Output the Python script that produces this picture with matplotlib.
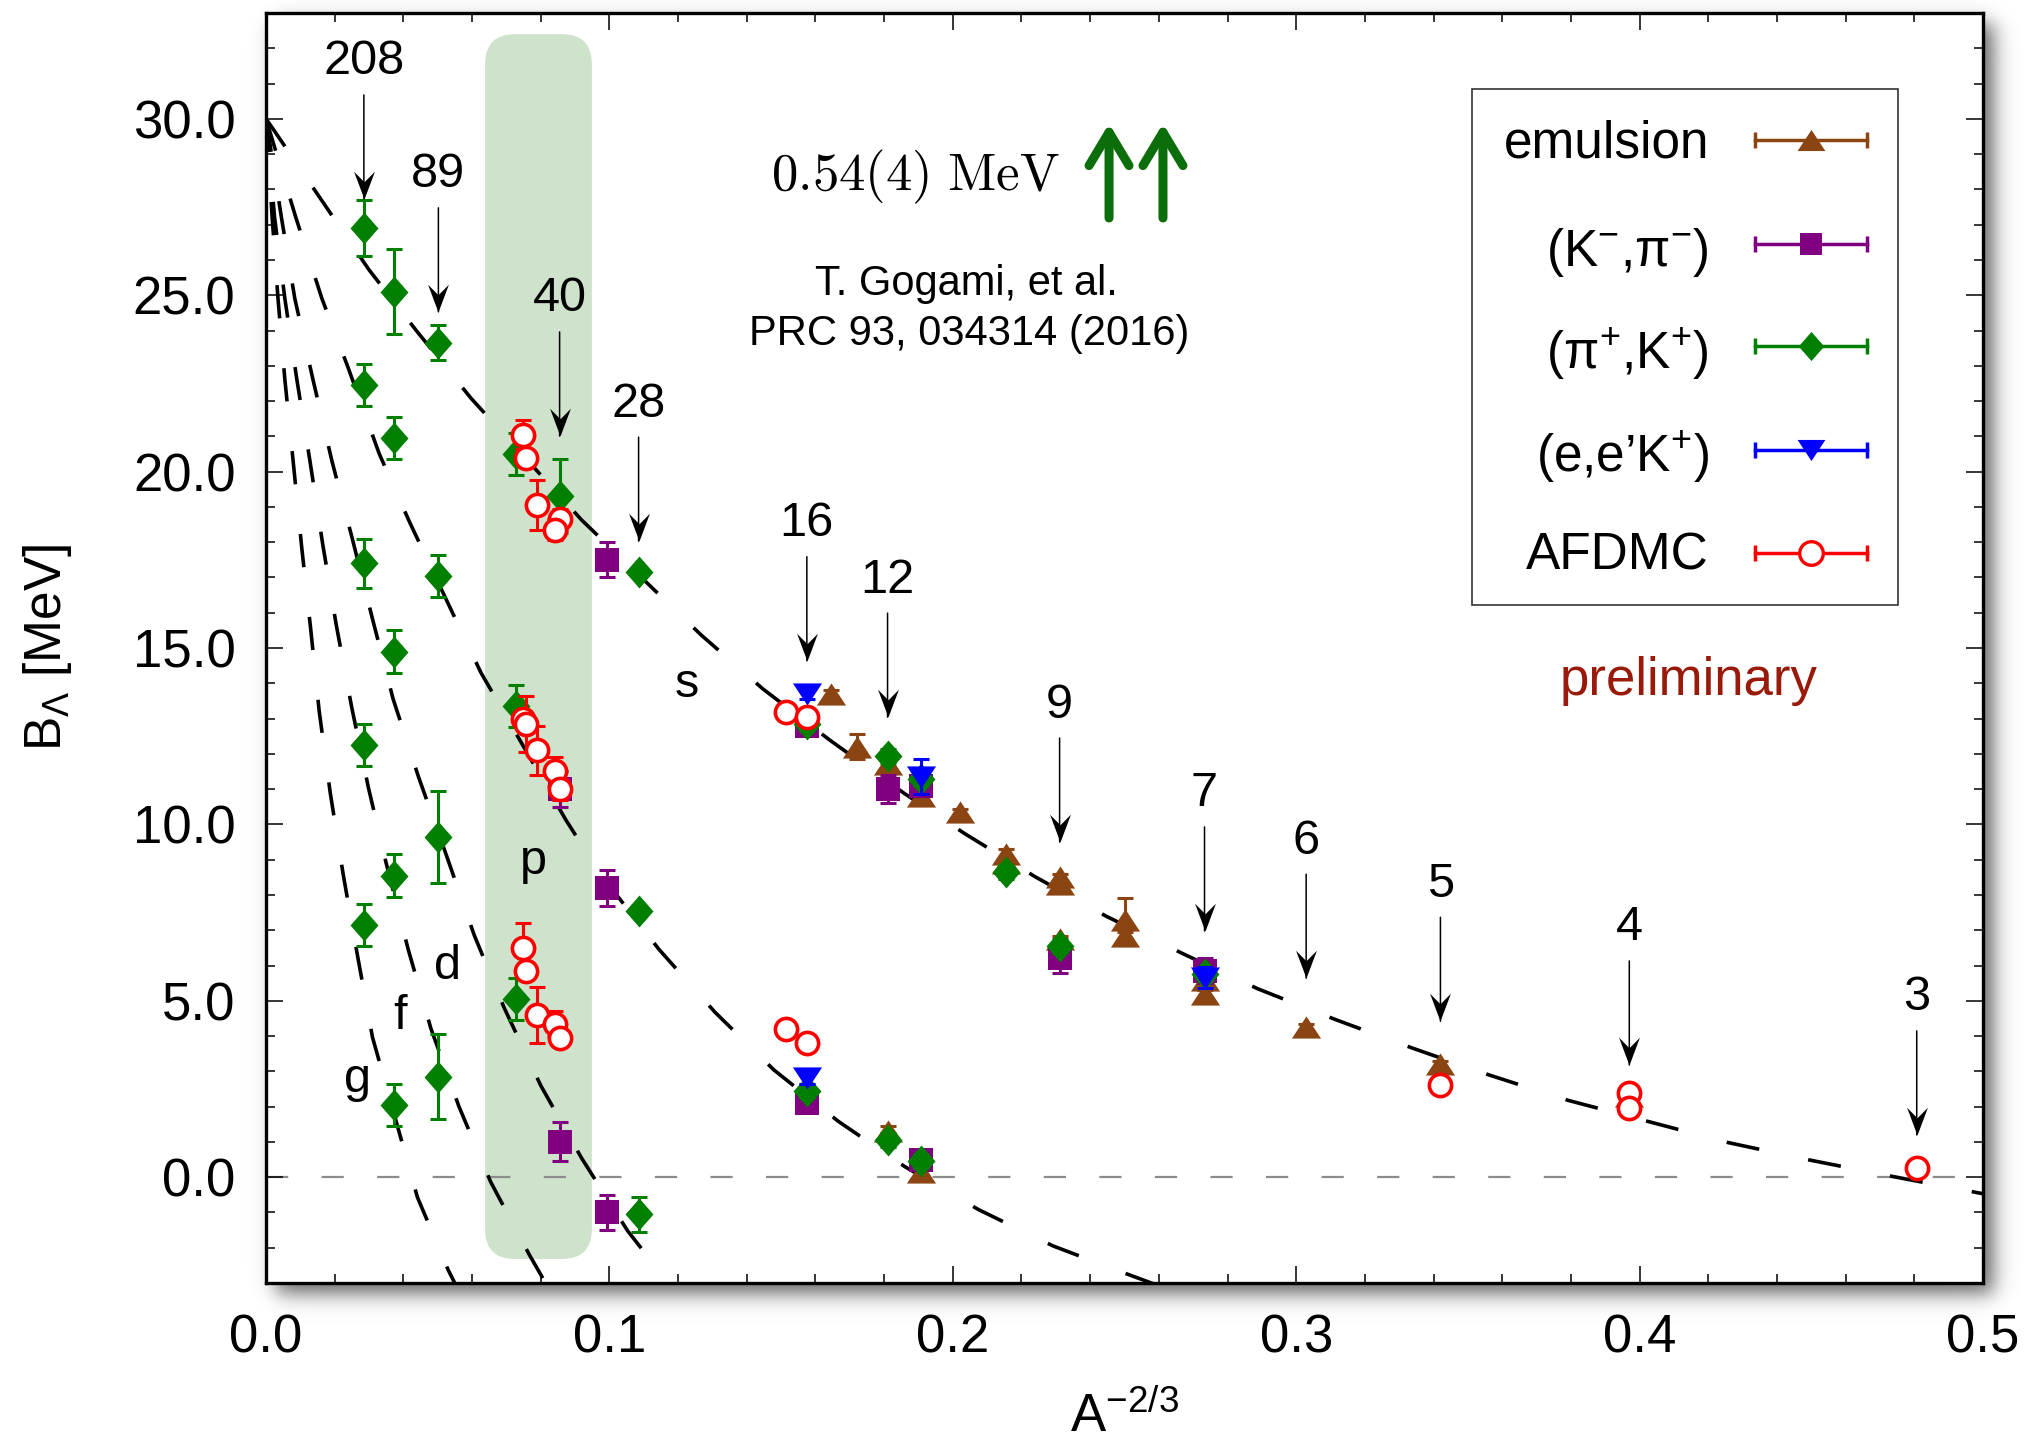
import numpy as np
import matplotlib
matplotlib.use("Agg")
import matplotlib.pyplot as plt
from matplotlib.patches import FancyBboxPatch, Rectangle
from matplotlib.path import Path
from matplotlib.ticker import MultipleLocator, FormatStrFormatter

plt.rcParams['font.family'] = ['Liberation Sans', 'DejaVu Sans']
plt.rcParams['mathtext.fontset'] = 'custom'
plt.rcParams['mathtext.rm'] = 'Liberation Sans'
plt.rcParams['mathtext.it'] = 'Liberation Sans:italic'
plt.rcParams['mathtext.bf'] = 'Liberation Sans:bold'
plt.rcParams['lines.scale_dashes'] = False

# ---------------- data ----------------
# single-particle model curves s, p, d, f, g
s_x = [0.0, 0.0025, 0.016, 0.030, 0.044, 0.0597, 0.092, 0.1267, 0.1447, 0.1643, 0.1857,
       0.2036, 0.2239, 0.2448, 0.2671, 0.2888, 0.3111, 0.3338, 0.3564, 0.3791, 0.4036,
       0.4258, 0.4493, 0.4726, 0.4957, 0.5]
s_y = [30.0, 29.65, 27.72, 25.72, 23.97, 22.08, 18.62, 15.37, 13.84, 12.38, 10.89,
       9.73, 8.52, 7.39, 6.33, 5.34, 4.48, 3.66, 2.89, 2.18, 1.55,
       0.98, 0.49, 0.04, -0.39, -0.47]
p_x = [0.0, 0.0087, 0.0163, 0.0239, 0.033, 0.0419, 0.0526, 0.0626, 0.0873, 0.0973, 0.1145,
       0.1308, 0.1479, 0.1667, 0.186, 0.2075, 0.2292, 0.2517, 0.262]
p_y = [30.0, 27.2, 24.9, 22.95, 20.5, 18.55, 16.35, 14.3, 10.13, 8.6, 6.45,
       4.67, 3.04, 1.58, 0.3, -0.92, -1.95, -2.78, -3.15]
d_x = [0.0, 0.0045, 0.0084, 0.0137, 0.0192, 0.025, 0.031, 0.037, 0.0444, 0.0524, 0.0606,
       0.0694, 0.08, 0.0919, 0.1053, 0.1167, 0.12]
d_y = [30.0, 27.2, 24.9, 22.6, 20.3, 18.15, 15.83, 13.56, 11.35, 9.16, 6.87,
       4.79, 2.6, 0.54, -1.52, -2.94, -3.3]
f_x = [0.0, 0.0025, 0.0055, 0.009, 0.0128, 0.0165, 0.0205, 0.025, 0.0298, 0.035, 0.0414,
       0.048, 0.0562, 0.0654, 0.0768, 0.082]
f_y = [30.0, 27.2, 24.9, 22.6, 20.3, 17.95, 15.63, 13.3, 11.05, 8.9, 6.46,
       4.22, 2.0, -0.13, -2.22, -3.1]
g_x = [0.0, 0.0018, 0.0035, 0.0055, 0.0079, 0.0104, 0.013, 0.0155, 0.0187, 0.0225, 0.0267,
       0.031, 0.0441, 0.053, 0.056]
g_y = [30.0, 27.2, 24.9, 22.6, 20.3, 17.85, 15.55, 13.2, 10.9, 8.57, 6.25,
       3.97, -0.57, -2.62, -3.2]

# emulsion
emu_x = [0.1644, 0.172, 0.181, 0.181, 0.1908, 0.1908, 0.2022, 0.2154, 0.2154, 0.2311,
         0.2311, 0.2311, 0.25, 0.25, 0.2733, 0.2733, 0.3029, 0.342, 0.397]
emu_y = [13.7, 12.2, 11.7, 1.3, 10.8, 0.15, 10.35, 9.15, 8.9, 8.5,
         8.3, 6.75, 7.3, 6.85, 5.6, 5.2, 4.25, 3.2, 2.3]
emu_e = [0.1, 0.35, 0.1, 0.15, 0.1, 0.1, 0.1, 0.15, 0.1, 0.1,
         0.1, 0.1, 0.6, 0.1, 0.1, 0.1, 0.1, 0.1, 0.1]
# (K-, pi-)
kpi_x = [0.0855, 0.0855, 0.0992, 0.0992, 0.0992, 0.1575, 0.1575, 0.181, 0.1908, 0.1908,
         0.2311, 0.2733]
kpi_y = [11.0, 1.0, 17.5, 8.2, -1.0, 12.8, 2.1, 11.0, 11.1, 0.5,
         6.2, 5.85]
kpi_e = [0.5, 0.55, 0.5, 0.5, 0.5, 0.3, 0.2, 0.4, 0.3, 0.2,
         0.4, 0.35]
# (pi+, K+)
pik_x = [0.0285] * 5 + [0.0373] * 5 + [0.0502] * 4 + [0.0727] * 3 + [0.0855] + \
        [0.1085] * 3 + [0.1575] * 2 + [0.181] * 2 + [0.1908] * 2 + [0.2154, 0.2311, 0.2733]
pik_y = [26.9, 22.45, 17.4, 12.25, 7.15,
         25.1, 20.95, 14.9, 8.55, 2.05,
         23.65, 17.05, 9.65, 2.85,
         20.5, 13.35, 5.05,
         19.3,
         17.15, 7.55, -1.05,
         12.85, 2.45, 11.95, 1.05, 11.3, 0.45, 8.65, 6.55, 5.75]
pik_e = [0.8, 0.6, 0.7, 0.6, 0.6,
         1.2, 0.6, 0.6, 0.6, 0.6,
         0.5, 0.6, 1.3, 1.2,
         0.6, 0.6, 0.6,
         1.05,
         0.15, 0.15, 0.5,
         0.2, 0.2, 0.2, 0.2, 0.2, 0.2, 0.2, 0.2, 0.2]
# (e, e'K+)
eek_x = [0.1575, 0.1575, 0.1908, 0.2733]
eek_y = [13.7, 2.8, 11.35, 5.65]
eek_e = [0.15, 0.15, 0.5, 0.3]
# AFDMC
afd_x = [0.0747, 0.0757, 0.079, 0.0855, 0.0841,
         0.0747, 0.0757, 0.079, 0.0841, 0.0855,
         0.0747, 0.0757, 0.079, 0.0841, 0.0855,
         0.1513, 0.1575, 0.1513, 0.1575, 0.342, 0.397, 0.397, 0.4807]
afd_y = [21.05, 20.4, 19.05, 18.65, 18.35,
         13.0, 12.85, 12.1, 11.5, 11.0,
         6.5, 5.85, 4.6, 4.35, 3.95,
         13.2, 13.05, 4.2, 3.8, 2.6, 2.4, 1.95, 0.25]
afd_e = [0.4, 0.2, 0.7, 0.3, 0.3,
         0.2, 0.8, 0.7, 0.4, 0.3,
         0.7, 0.2, 0.8, 0.35, 0.2,
         0.1, 0.1, 0.1, 0.1, 0.1, 0.1, 0.1, 0.1]

# mass-number arrows
arrow_x = [0.0285, 0.0502, 0.0855, 0.1085, 0.1575, 0.181, 0.2311, 0.2733, 0.3029, 0.342, 0.397, 0.4807]
arrow_tip = [27.73, 24.53, 21.01, 18.03, 14.64, 13.04, 9.5, 6.98, 5.64, 4.42, 3.18, 1.2]
arrow_lbl = ['208', '89', '40', '28', '16', '12', '9', '7', '6', '5', '4', '3']

# orbital labels
orb_lbl = ['s', 'p', 'd', 'f', 'g']
orb_x = [0.1225, 0.0778, 0.0529, 0.039, 0.0266]
orb_y = [13.6, 8.59, 5.61, 4.2, 2.4]

legend_labels = ['emulsion', r'(K$^{-}$,π$^{-}$)', r'(π$^{+}$,K$^{+}$)', r'(e,e’K$^{+}$)', 'AFDMC']

# ---------------- styles ----------------
BROWN = '#8b4513'
PURPLE = '#800080'
GREEN = '#007f00'
BLUE = '#0000ff'
RED = '#ff0000'


def closed(verts):
    v = list(verts) + [verts[0]]
    codes = [Path.MOVETO] + [Path.LINETO] * (len(verts) - 1) + [Path.CLOSEPOLY]
    return Path(np.array(v, float), codes)


DIAMOND = closed([(0, 1), (0.875, 0), (0, -1), (-0.875, 0)])
TRI_UP = closed([(0, 0.76), (1, -0.76), (-1, -0.76)])
TRI_DN = closed([(0, -0.76), (1, 0.76), (-1, 0.76)])
HEAD = closed([(0, 0), (-0.375, 1.0), (0, 0.62), (0.375, 1.0)])

W, H, DPI = 2032, 1441, 100
L, R, T, B = 266, 1983, 13, 1283

fig = plt.figure(figsize=(W / DPI, H / DPI), dpi=DPI)
ax = fig.add_axes([L / W, 1 - B / H, (R - L) / W, (B - T) / H])
ax.set_facecolor('white')

# drop shadow
yy = np.arange(H, dtype=float)[:, None]
xx = np.arange(W, dtype=float)[None, :]


def sig(z):
    return 1.0 / (1.0 + np.exp(-z))


off, sg = 10.0, 6.0
fx = sig((xx - (L + off)) / sg) * sig(((R + off) - xx) / sg)
fy = sig((yy - (T + off)) / sg) * sig(((B + off) - yy) / sg)
img = np.zeros((H, W, 4))
img[..., 3] = 0.6 * fx * fy
fig.figimage(img, 0, 0, origin='upper', zorder=-5)

ax.set_xlim(0, 0.5)
ax.set_ylim(-3, 33)

# shaded band
px_per_x = (R - L) / 0.5
px_per_y = (B - T) / 36.0
band = FancyBboxPatch((0.0638, -2.32), 0.0311, 34.72,
                      boxstyle="round,pad=0,rounding_size=0.0087",
                      mutation_aspect=px_per_x / px_per_y,
                      fc='#cfe3cc', ec='none', zorder=1)
ax.add_patch(band)

ax.axhline(0, color='#8c8c8c', lw=1.6, dashes=(16, 24), zorder=1.5)

for cx, cy in [(s_x, s_y), (p_x, p_y), (d_x, d_y), (f_x, f_y), (g_x, g_y)]:
    ax.plot(cx, cy, color='black', lw=2.6, dashes=(24, 36), zorder=2, solid_capstyle='butt',
            dash_capstyle='butt')

ekw = dict(elinewidth=2.2, capsize=5.6, capthick=2.2, ls='none')
ax.errorbar(emu_x, emu_y, yerr=emu_e, fmt='none', ecolor=BROWN, zorder=3, **ekw)
ax.plot(emu_x, emu_y, ls='none', marker=TRI_UP, ms=21, mfc=BROWN, mec=BROWN, mew=0, zorder=3.1)
ax.errorbar(kpi_x, kpi_y, yerr=kpi_e, fmt='none', ecolor=PURPLE, zorder=3.2, **ekw)
ax.plot(kpi_x, kpi_y, ls='none', marker='s', ms=17, mfc=PURPLE, mec=PURPLE, mew=0, zorder=3.3)
ax.errorbar(pik_x, pik_y, yerr=pik_e, fmt='none', ecolor=GREEN, zorder=3.4, **ekw)
ax.plot(pik_x, pik_y, ls='none', marker=DIAMOND, ms=23, mfc=GREEN, mec=GREEN, mew=0, zorder=3.5)
ax.errorbar(eek_x, eek_y, yerr=eek_e, fmt='none', ecolor=BLUE, zorder=3.6, **ekw)
ax.plot(eek_x, eek_y, ls='none', marker=TRI_DN, ms=21, mfc=BLUE, mec=BLUE, mew=0, zorder=3.7)
ax.errorbar(afd_x, afd_y, yerr=afd_e, fmt='none', ecolor=RED, zorder=3.8, **ekw)
ax.plot(afd_x, afd_y, ls='none', marker='o', ms=16, mfc='white', mec=RED, mew=2.6, zorder=3.9)

# mass number arrows
for x, tip, lbl in zip(arrow_x, arrow_tip, arrow_lbl):
    ax.annotate('', xy=(x, tip), xytext=(0, 104 * 0.72), textcoords='offset points',
                arrowprops=dict(arrowstyle='-', lw=1.1, color='black', shrinkA=0, shrinkB=0),
                zorder=5)
    ax.annotate(lbl, xy=(x, tip), xytext=(0, 137 * 0.72), textcoords='offset points',
                ha='center', va='center', fontsize=35, zorder=5)
ax.plot(arrow_x, arrow_tip, ls='none', marker=HEAD, ms=40, mfc='black', mec='black', mew=0, zorder=5)

for lbl, x, y in zip(orb_lbl, orb_x, orb_y):
    ax.text(x, y, lbl, ha='center', va='baseline', fontsize=35, zorder=5)

# ticks
ax.xaxis.set_major_locator(MultipleLocator(0.1))
ax.xaxis.set_minor_locator(MultipleLocator(0.02))
ax.yaxis.set_major_locator(MultipleLocator(5))
ax.yaxis.set_minor_locator(MultipleLocator(1))
ax.xaxis.set_major_formatter(FormatStrFormatter('%.1f'))
ax.yaxis.set_major_formatter(FormatStrFormatter('%.1f'))
ax.tick_params(which='both', direction='in', top=True, right=True, width=1.1, labelsize=38, pad=22)
ax.tick_params(which='major', length=12)
ax.tick_params(which='minor', length=6.5)
for sp in ax.spines.values():
    sp.set_linewidth(2.4)
    sp.set_zorder(8)

ax.set_xlabel(r'A$^{-2/3}$', fontsize=38)
ax.xaxis.set_label_coords(0.5, -0.106)
ax.xaxis.label.set_verticalalignment('center')
ax.set_ylabel(r'B$_{\Lambda}$ [MeV]', fontsize=37)
ax.yaxis.set_label_coords(-0.127, 0.5)
ax.yaxis.label.set_verticalalignment('center')

# annotations
ax.text(0.378, 0.8606, r'$0.54(4)\ \mathrm{MeV}$', transform=ax.transAxes, ha='center',
        va='baseline', fontsize=38, math_fontfamily='cm')
for xa in (0.491, 0.5224):
    ax.annotate('', xy=(xa, 0.913), xytext=(xa, 0.8386), xycoords='axes fraction',
                arrowprops=dict(arrowstyle='->,head_length=1.0,head_width=0.6', mutation_scale=24,
                                lw=6.5, color='#0b6e0b', shrinkA=0, shrinkB=0))
ax.text(0.4077, 0.778, 'T. Gogami, et al.', transform=ax.transAxes, ha='center', va='baseline', fontsize=30)
ax.text(0.4094, 0.7386, 'PRC 93, 034314 (2016)', transform=ax.transAxes, ha='center', va='baseline',
        fontsize=30)
ax.text(0.8288, 0.463, 'preliminary', transform=ax.transAxes, ha='center', va='baseline', fontsize=38,
        color='#991a0a')

# legend (drawn manually, gnuplot style)
ax.add_patch(Rectangle((0.7024, 0.5342), 0.2481, 0.4063, transform=ax.transAxes, fc='white',
                       ec='#333333', lw=1.2, zorder=9))
row_y = [0.9000, 0.8181, 0.7378, 0.6559, 0.5748]
base_y = [0.8866, 0.8008, 0.7197, 0.6382, 0.5622]
leg_col = [BROWN, PURPLE, GREEN, BLUE, RED]
leg_mk = [dict(marker=TRI_UP, ms=20, mfc=BROWN, mec=BROWN, mew=0),
          dict(marker='s', ms=16.5, mfc=PURPLE, mec=PURPLE, mew=0),
          dict(marker=DIAMOND, ms=21, mfc=GREEN, mec=GREEN, mew=0),
          dict(marker=TRI_DN, ms=20, mfc=BLUE, mec=BLUE, mew=0),
          dict(marker='o', ms=17, mfc='white', mec=RED, mew=2.4)]
lx0, lx1, lxc = 0.8672, 0.9324, 0.8998
for lbl, ry, by, c, mk in zip(legend_labels, row_y, base_y, leg_col, leg_mk):
    ax.plot([lx0, lx1], [ry, ry], transform=ax.transAxes, color=c, lw=2.5, clip_on=False, zorder=10)
    ax.plot([lx0, lx1], [ry, ry], transform=ax.transAxes, ls='none', marker='|', ms=11, mew=2.5,
            color=c, clip_on=False, zorder=10)
    ax.plot([lxc], [ry], transform=ax.transAxes, ls='none', clip_on=False, zorder=11, **mk)
    ax.text(0.8405, by, lbl, transform=ax.transAxes, ha='right', va='baseline', fontsize=37, zorder=11)

fig.savefig('out.png', dpi=DPI)
